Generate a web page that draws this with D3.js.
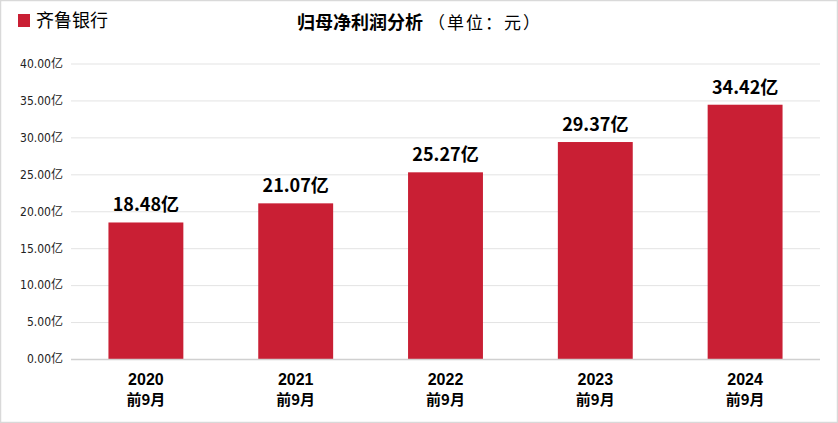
<!DOCTYPE html>
<html><head><meta charset="utf-8">
<script src="https://cdn.jsdelivr.net/npm/d3@7/dist/d3.min.js"></script>
<style>
html,body{margin:0;padding:0;background:#fff;}
svg{display:block;}
text{font-family:"Noto Sans CJK SC","Noto Sans",sans-serif;}
</style></head><body>
<svg id="c" width="838" height="423"></svg>
<script>
const categories = ["2020","2021","2022","2023","2024"];
const subLabels = ["前9月","前9月","前9月","前9月","前9月"];
const values = [18.48, 21.07, 25.27, 29.37, 34.42];
const yTicks = [0,5,10,15,20,25,30,35,40];
const seriesName = "齐鲁银行";
const color = "#C91F34";

const svg = d3.select("#c");
const W = 838, H = 423;
const m = {left:71, right:18, top:63.5, bottom:64};
svg.append("rect").attr("x",0.5).attr("y",0.5).attr("width",W-1).attr("height",H-1)
  .attr("fill","none").attr("stroke","#d9d9d9").attr("stroke-width",1.5);

const x = d3.scaleBand().domain(categories).range([m.left, W-m.right]).paddingInner(0.5).paddingOuter(0.25);
const y = d3.scaleLinear().domain([0,40]).range([H-m.bottom, m.top]);

const gy = svg.append("g").attr("transform",`translate(${m.left},0)`)
  .call(d3.axisLeft(y).tickValues(yTicks).tickSize(-(W-m.right-m.left)).tickPadding(8)
    .tickFormat(d=>d3.format(".2f")(d)+"亿"));
gy.select(".domain").remove();
gy.selectAll(".tick line").attr("stroke","#e3e3e3").attr("stroke-width",1);
gy.selectAll(".tick text").attr("fill","#222").style("font-size","12px")
  .style("font-family","'DejaVu Sans Condensed','Noto Sans CJK SC',sans-serif");

svg.append("g").selectAll("rect").data(values).join("rect")
  .attr("x",(d,i)=>x(categories[i])).attr("width",x.bandwidth())
  .attr("y",d=>y(d)).attr("height",d=>y(0)-y(d)).attr("fill",color);

svg.append("line").attr("x1",m.left).attr("x2",W-m.right).attr("y1",y(0)+0.5).attr("y2",y(0)+0.5)
  .attr("stroke","#d0d0d0").attr("stroke-width",1.5);

svg.append("g").selectAll("text").data(values).join("text")
  .attr("x",(d,i)=>x(categories[i])+x.bandwidth()/2).attr("y",d=>y(d)-11)
  .attr("text-anchor","middle").attr("font-weight","bold").attr("fill","#000")
  .style("font-size","18px").text(d=>d3.format(".2f")(d)+"亿");

svg.append("g").selectAll("text").data(categories).join("text")
  .attr("x",d=>x(d)+x.bandwidth()/2).attr("y",385).attr("text-anchor","middle")
  .attr("font-weight","bold").attr("fill","#000").style("font-size","16px")
  .style("font-family","'Liberation Sans',sans-serif").text(d=>d);
svg.append("g").selectAll("text").data(subLabels).join("text")
  .attr("x",(d,i)=>x(categories[i])+x.bandwidth()/2).attr("y",405).attr("text-anchor","middle")
  .attr("font-weight","bold").attr("fill","#000").style("font-size","15px").text(d=>d);

svg.append("rect").attr("x",18).attr("y",14).attr("width",12).attr("height",13).attr("fill",color);
svg.append("text").attr("x",36).attr("y",27).style("font-size","18px").attr("fill","#000").text(seriesName);

svg.append("text").attr("x",297).attr("y",29).attr("fill","#000")
  .attr("font-weight","bold").style("font-size","18px").text("归母净利润分析");
svg.append("text").attr("x",428).attr("y",29).attr("fill","#000")
  .style("font-size","17px").style("letter-spacing","2px").text("（单位：元）");
</script></body></html>
